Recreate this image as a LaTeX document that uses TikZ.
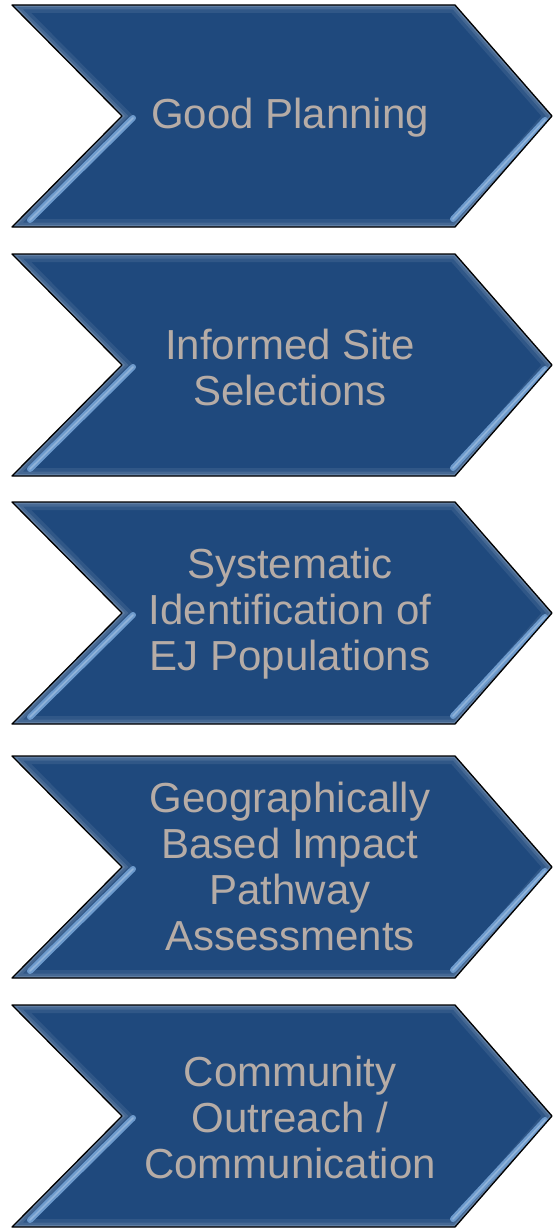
\documentclass[tikz,border=0pt]{standalone}
\usepackage{fontspec}
\setmainfont{Liberation Sans}
\definecolor{chevblue}{RGB}{31,73,125}
\definecolor{chevtext}{RGB}{182,172,166}
\definecolor{chevlight}{RGB}{110,155,205}
\newcommand{\chevpath}{(0,0) -- (443,0) -- (540,111) -- (443,222) -- (0,222) -- (110,111) -- cycle}

\begin{document}
\begin{tikzpicture}[x=1pt, y=-1pt,
  chevron/.pic={
    \path [fill=chevblue] \chevpath;
    \begin{scope}
      \clip \chevpath;
      \draw [white, opacity=.08, line width=16pt] \chevpath;
      \draw [white, opacity=.1, line width=9pt] \chevpath;
      \draw [white, opacity=.15, line width=4pt] \chevpath;
      \draw [chevlight, line width=6pt, line cap=round] (121,113) -- (18,215);
      \draw [chevlight, line width=6pt, line cap=round] (533,115) -- (441,214);
      \draw [white, opacity=.25, line width=1.5pt, line cap=round] (121,113) -- (18,215);
      \draw [white, opacity=.25, line width=1.5pt, line cap=round] (533,115) -- (441,214);
    \end{scope}
    \draw [black, line width=1.3pt, line join=round] \chevpath;
  },
  every node/.style={text=chevtext, align=center, font=\fontsize{42}{46}\selectfont}]
  \useasboundingbox (0,0) rectangle (552,1228);

  \pic at (12,5) {chevron};
  \pic at (12,254) {chevron};
  \pic at (12,502) {chevron};
  \pic at (12,756) {chevron};
  \pic at (12,1005) {chevron};

  \node (plan) at (290,118) {Good Planning};
  \node (site) at (290,367) {Informed Site\\Selections};
  \node (ident) at (290,614) {Systematic\\Identification of\\EJ Populations};
  \node (impact) at (290,866) {Geographically\\Based Impact\\Pathway\\Assessments};
  \node (outreach) at (290,1117) {Community\\Outreach /\\Communication};
\end{tikzpicture}
\end{document}
